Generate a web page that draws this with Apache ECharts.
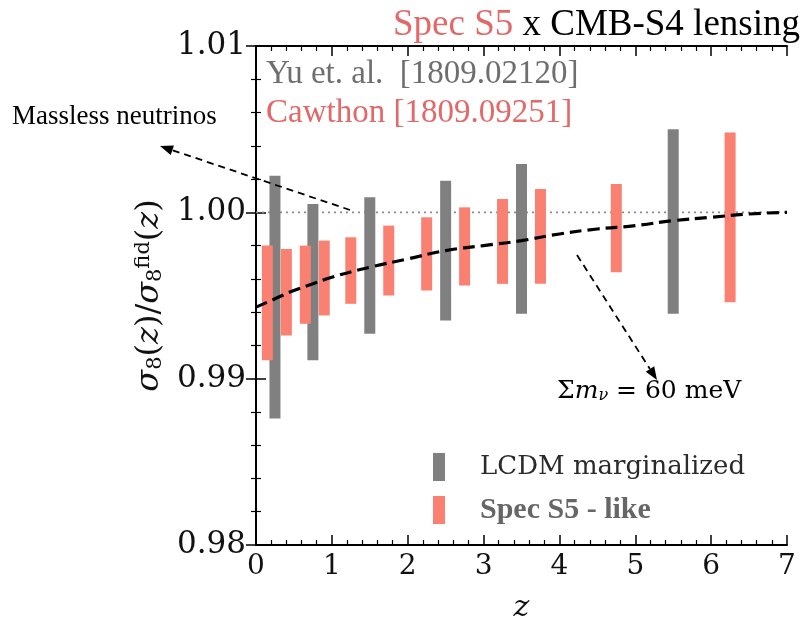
<!DOCTYPE html>
<html>
<head>
<meta charset="utf-8">
<script src="https://cdn.jsdelivr.net/npm/echarts@6/dist/echarts.min.js"></script>
<style>
  html, body { margin: 0; padding: 0; background: #fff; }
  #chart { width: 804px; height: 619px; }
</style>
</head>
<body>
<div id="chart"></div>
<script>
// Forecast errors on sigma_8(z)/sigma_8^fid(z)

// LCDM-marginalized forecast (Yu et al.)
const lcdmZ    = [0.25, 0.75, 1.5, 2.5, 3.5, 5.5];
const lcdmLow  = [0.9876, 0.9911, 0.9927, 0.9935, 0.9939, 0.9939];
const lcdmHigh = [1.0022, 1.0005, 1.0009, 1.0019, 1.0029, 1.0050];

// Spec S5-like forecast (Cawthon)
const specZ    = [0.15, 0.4, 0.65, 0.9, 1.25, 1.75, 2.25, 2.75, 3.25, 3.75, 4.75, 6.25];
const specLow  = [0.9911, 0.9926, 0.9933, 0.9938, 0.9945, 0.9950, 0.9953, 0.9956, 0.9957, 0.9957, 0.9964, 0.9946];
const specHigh = [0.9980, 0.9978, 0.9980, 0.9983, 0.9985, 0.9992, 0.9997, 1.0003, 1.0008, 1.0014, 1.0017, 1.0048];

// Suppression for sum of neutrino masses = 60 meV
const nuZ     = [0, 0.25, 0.5, 0.75, 1, 1.5, 2, 2.5, 3, 3.5, 4, 4.5, 5, 5.5, 6, 6.5, 7];
const nuRatio = [0.9943, 0.9948, 0.9953, 0.9957, 0.9961, 0.9967, 0.9972, 0.9977, 0.9980, 0.9983, 0.9987, 0.9990, 0.9992, 0.9995, 0.9997, 0.9999, 1.0000];

// Massless reference
const refZ     = [0, 7];
const refRatio = [1.0, 1.0];

// Axis ticks
const xTicks = [0, 1, 2, 3, 4, 5, 6, 7];
const yTicks = [0.98, 0.99, 1.00, 1.01];

const GRAY = '#808080';
const SALMON = '#fa8072';
const RED_TEXT = '#e36868';

const chart = echarts.init(document.getElementById('chart'), null, { renderer: 'canvas' });

function rangeBar(params, api) {
  const z = api.value(0);
  const top = api.coord([z, api.value(2)]);
  const bot = api.coord([z, api.value(1)]);
  const w = 11;
  return {
    type: 'rect',
    shape: { x: top[0] - w / 2, y: top[1], width: w, height: bot[1] - top[1] },
    style: api.style()
  };
}

const tickCommon = {
  axisLine: { show: true, lineStyle: { color: '#000', width: 2 } },
  axisTick: { show: true, inside: true, length: 10, lineStyle: { color: '#000', width: 1.5 } },
  minorTick: { show: true, splitNumber: 5, length: 5, lineStyle: { color: '#000', width: 1.2 } },
  splitLine: { show: false },
  minorSplitLine: { show: false }
};

const option = {
  backgroundColor: '#fff',
  animation: false,
  grid: { left: 256, top: 46, width: 531, height: 499, containLabel: false, outerBoundsMode: 'none' },
  xAxis: [
    Object.assign({
      type: 'value', min: xTicks[0], max: xTicks[xTicks.length - 1], interval: 1,
      position: 'bottom',
      axisLabel: { show: true, color: '#111', fontFamily: 'DejaVu Serif', fontSize: 28, margin: 8 },
      name: 'z', nameLocation: 'middle', nameGap: 48,
      nameTextStyle: { fontFamily: 'DejaVu Serif', fontStyle: 'italic', fontSize: 30, color: '#111' }
    }, tickCommon),
    Object.assign({
      type: 'value', min: xTicks[0], max: xTicks[xTicks.length - 1], interval: 1,
      position: 'top', axisLabel: { show: false }
    }, tickCommon)
  ],
  yAxis: [
    Object.assign({
      type: 'value', min: yTicks[0], max: yTicks[yTicks.length - 1], interval: 0.01,
      position: 'left',
      axisLabel: {
        show: true, color: '#111', fontFamily: 'DejaVu Serif', fontSize: 31, margin: 10,
        formatter: v => v.toFixed(2)
      },
      name: '{i|σ}{s|8}{n|(}{i|z}{n|)/}{i|σ}{s|8}{p|fid}{n|(}{i|z}{n|)}',
      nameLocation: 'middle', nameRotate: 90, nameGap: 84,
      nameTextStyle: {
        color: '#111',
        rich: {
          i: { fontFamily: 'DejaVu Serif', fontStyle: 'italic', fontSize: 32, color: '#111' },
          n: { fontFamily: 'DejaVu Serif', fontSize: 32, color: '#111' },
          s: { fontFamily: 'DejaVu Serif', fontSize: 21, color: '#111', verticalAlign: 'bottom', padding: [12, 0, 0, 0] },
          p: { fontFamily: 'DejaVu Serif', fontSize: 21, color: '#111', verticalAlign: 'top', padding: [0, 0, 12, 0] }
        }
      }
    }, tickCommon),
    Object.assign({
      type: 'value', min: yTicks[0], max: yTicks[yTicks.length - 1], interval: 0.01,
      position: 'right', axisLabel: { show: false }
    }, tickCommon)
  ],
  title: {
    text: '{r|Spec S5}{k| x CMB-S4 lensing}',
    right: -1, top: 2,
    textStyle: {
      fontWeight: 'normal',
      rich: {
        r: { fontFamily: 'Liberation Serif', fontWeight: 'normal', fontSize: 37, color: RED_TEXT },
        k: { fontFamily: 'Liberation Serif', fontWeight: 'normal', fontSize: 37, color: '#000' }
      }
    }
  },
  legend: {
    orient: 'vertical', left: 428, top: 448,
    itemWidth: 12, itemHeight: 28, itemGap: 14,
    data: [
      { name: 'LCDM marginalized', icon: 'rect',
        textStyle: { fontFamily: 'DejaVu Serif', fontSize: 26, color: '#2a2a2a', padding: [0, 0, 0, 30] } },
      { name: 'Spec S5 - like', icon: 'rect',
        textStyle: { fontFamily: 'Liberation Serif', fontWeight: 'bold', fontSize: 30, color: '#666', padding: [0, 0, 0, 30] } }
    ]
  },
  series: [
    {
      name: 'massless', type: 'line', xAxisIndex: 0, yAxisIndex: 0,
      data: refZ.map((z, i) => [z, refRatio[i]]),
      symbol: 'none', z: 1,
      lineStyle: { color: '#8c8c8c', width: 1.6, type: [2, 4] }
    },
    {
      name: 'LCDM marginalized', type: 'custom', xAxisIndex: 0, yAxisIndex: 0,
      renderItem: rangeBar, z: 2,
      itemStyle: { color: GRAY },
      encode: { x: 0, y: [1, 2] },
      data: lcdmZ.map((z, i) => [z, lcdmLow[i], lcdmHigh[i]])
    },
    {
      name: 'Spec S5 - like', type: 'custom', xAxisIndex: 0, yAxisIndex: 0,
      renderItem: rangeBar, z: 2,
      itemStyle: { color: SALMON },
      encode: { x: 0, y: [1, 2] },
      data: specZ.map((z, i) => [z, specLow[i], specHigh[i]])
    },
    {
      name: 'sum m_nu = 60 meV', type: 'line', xAxisIndex: 0, yAxisIndex: 0,
      data: nuZ.map((z, i) => [z, nuRatio[i]]),
      symbol: 'none', smooth: true, z: 3,
      lineStyle: { color: '#000', width: 3.2, type: [12, 6] }
    }
  ]
};

chart.setOption(option);

// Dashed annotation arrows with filled heads
function arrow(x1, y1, x2, y2) {
  const ang = Math.atan2(y2 - y1, x2 - x1);
  const L = 13, W = 5;
  const bx = x2 - L * Math.cos(ang), by = y2 - L * Math.sin(ang);
  const nx = -Math.sin(ang), ny = Math.cos(ang);
  return [
    { type: 'line', shape: { x1: x1, y1: y1, x2: bx, y2: by },
      style: { stroke: '#000', lineWidth: 1.8, lineDash: [7, 5] }, z: 10 },
    { type: 'polygon', shape: { points: [[x2, y2], [bx + nx * W, by + ny * W], [bx - nx * W, by - ny * W]] },
      style: { fill: '#000' }, z: 10 }
  ];
}

chart.setOption({
  graphic: [
    { type: 'text', left: 266, top: 58,
      style: { text: 'Yu et. al.  [1809.02120]', font: '33px "Liberation Serif"', fill: '#6e6e6e' } },
    { type: 'text', left: 266, top: 97,
      style: { text: 'Cawthon [1809.09251]', font: '33px "Liberation Serif"', fill: RED_TEXT } },
    { type: 'text', left: 12, top: 103,
      style: { text: 'Massless neutrinos', font: '27px "Liberation Serif"', fill: '#000' } },
    { type: 'text', left: 557, top: 379,
      style: {
        text: '{n|Σ}{i|m}{s|ν}{n| = 60 meV}',
        rich: {
          n: { font: '25px "DejaVu Serif"', fill: '#000' },
          i: { font: 'italic 25px "DejaVu Serif"', fill: '#000' },
          s: { font: 'italic 16px "DejaVu Serif"', fill: '#000', verticalAlign: 'bottom', padding: [8, 0, 0, 0] }
        }
      } },
    ...arrow(350, 210, 160, 146),
    ...arrow(577, 255, 657, 380)
  ]
});
</script>
</body>
</html>
